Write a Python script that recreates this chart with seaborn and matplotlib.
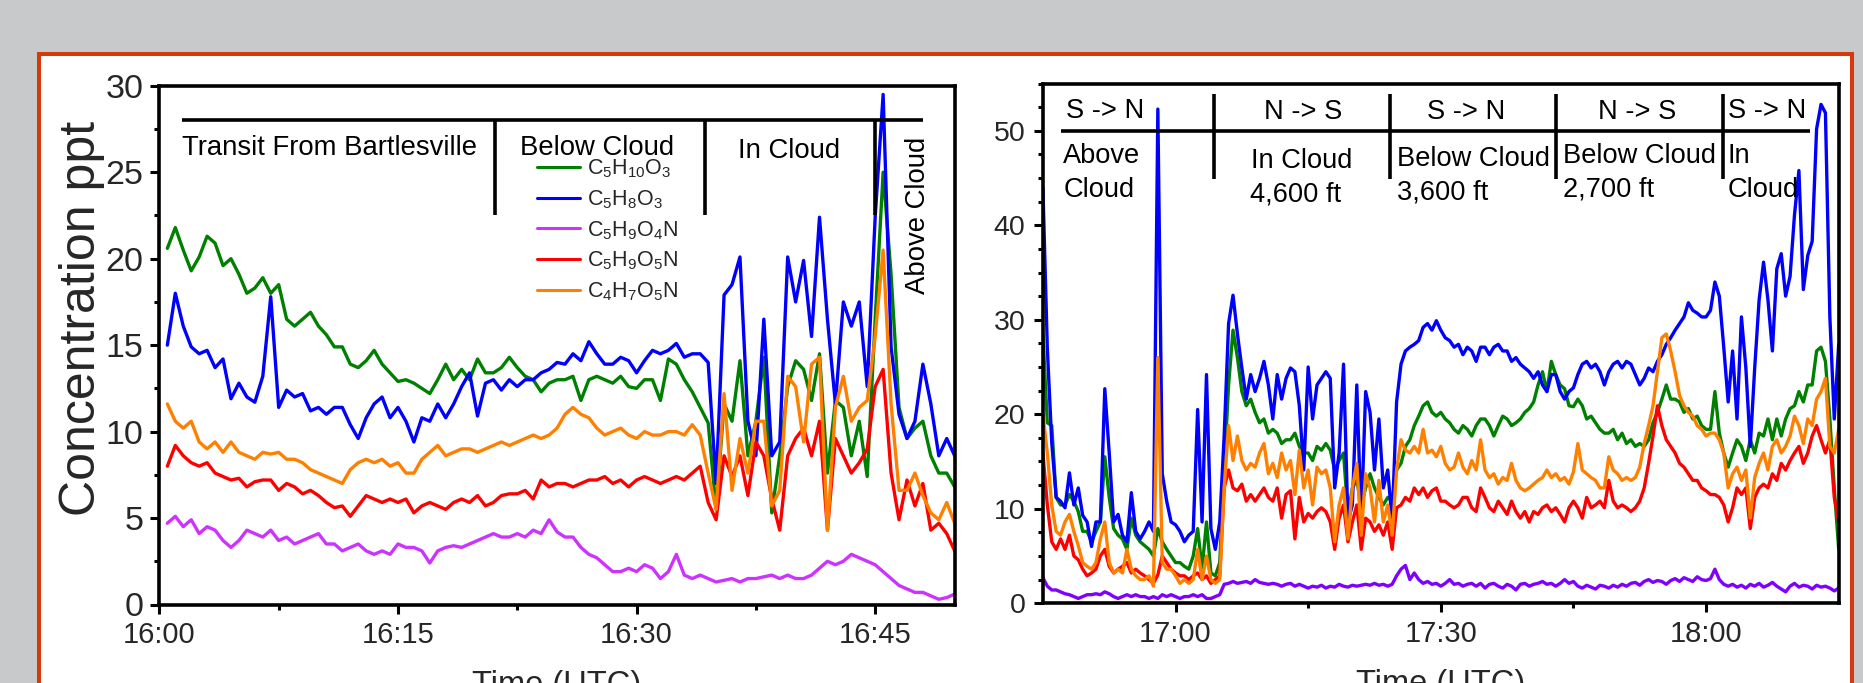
import numpy as np
import pandas as pd
import matplotlib
matplotlib.use("Agg")
import matplotlib.pyplot as plt
import seaborn as sns
from matplotlib.patches import Rectangle
from matplotlib.lines import Line2D
from matplotlib.ticker import FixedLocator, FixedFormatter, MultipleLocator

# ---------------- data ----------------
species = ["C5H10O3", "C5H8O3", "C5H9O4N", "C5H9O5N", "C4H7O5N"]
species_labels = [r"$\mathregular{C_5H_{10}O_3}$", r"$\mathregular{C_5H_8O_3}$",
                  r"$\mathregular{C_5H_9O_4N}$", r"$\mathregular{C_5H_9O_5N}$",
                  r"$\mathregular{C_4H_7O_5N}$"]

# left panel: minutes after 16:00, sampled every 0.5 min from 16:00:30
left_start, left_step = 0.5, 0.5
left_C5H10O3 = [
    20.6, 21.8, 20.5, 19.3, 20.1, 21.3, 20.9, 19.6, 20.0, 19.1,
    18.0, 18.3, 18.9, 18.0, 18.5, 16.5, 16.1, 16.5, 16.9, 16.1,
    15.6, 14.9, 14.9, 13.9, 13.7, 14.1, 14.7, 13.9, 13.4, 12.9,
    13.0, 12.8, 12.5, 12.2, 13.0, 13.9, 13.0, 13.6, 13.0, 14.2,
    13.4, 13.4, 13.7, 14.3, 13.7, 13.2, 13.0, 12.3, 12.8, 13.0,
    13.0, 13.2, 11.8, 13.0, 13.2, 13.0, 12.8, 13.2, 12.6, 12.5,
    13.0, 13.0, 11.8, 14.2, 13.9, 13.0, 12.3, 11.4, 10.5, 5.5,
    11.6, 10.6, 14.1, 8.6, 10.6, 14.3, 5.3, 8.6, 12.6, 14.1,
    13.6, 11.8, 14.5, 7.6, 11.8, 11.4, 8.6, 10.6, 7.4, 16.5,
    25.0, 19.1, 11.4, 9.6, 10.2, 10.6, 8.6, 7.6, 7.6, 6.8]
left_C5H8O3 = [
    15.0, 18.0, 16.1, 14.9, 14.5, 14.7, 13.7, 14.2, 11.9, 12.8,
    12.0, 11.7, 13.2, 17.8, 11.4, 12.4, 12.0, 12.2, 11.2, 11.4,
    11.0, 11.4, 11.4, 10.4, 9.6, 10.8, 11.6, 12.0, 10.8, 11.4,
    10.6, 9.4, 10.8, 10.6, 11.6, 10.8, 11.6, 12.6, 13.4, 10.9,
    12.8, 13.0, 12.4, 13.0, 12.6, 13.0, 13.0, 13.4, 13.6, 14.0,
    13.9, 14.5, 14.1, 15.2, 14.5, 13.9, 13.9, 14.3, 14.1, 13.4,
    14.1, 14.7, 14.5, 14.7, 15.1, 14.3, 14.5, 14.5, 14.0, 7.0,
    17.9, 18.5, 20.1, 10.6, 8.6, 16.5, 8.6, 9.4, 20.1, 17.5,
    19.9, 15.5, 22.4, 16.5, 11.6, 17.5, 16.1, 17.5, 12.6, 22.4,
    29.5, 14.9, 11.0, 9.6, 10.6, 13.9, 11.6, 8.6, 9.6, 8.6]
left_C5H9O4N = [
    4.7, 5.1, 4.5, 4.9, 4.1, 4.5, 4.3, 3.7, 3.3, 3.7,
    4.3, 4.1, 3.9, 4.3, 3.7, 3.9, 3.5, 3.7, 3.9, 4.1,
    3.5, 3.5, 3.1, 3.3, 3.5, 3.1, 2.9, 3.1, 2.9, 3.5,
    3.3, 3.3, 3.1, 2.4, 3.1, 3.3, 3.4, 3.3, 3.5, 3.7,
    3.9, 4.1, 3.9, 3.9, 4.1, 3.9, 4.3, 4.1, 4.9, 4.2,
    3.9, 3.9, 3.3, 2.9, 2.7, 2.3, 1.9, 1.9, 2.1, 1.9,
    2.3, 2.1, 1.5, 1.9, 2.9, 1.7, 1.5, 1.7, 1.5, 1.3,
    1.4, 1.5, 1.3, 1.5, 1.5, 1.6, 1.7, 1.5, 1.7, 1.5,
    1.5, 1.7, 2.1, 2.5, 2.3, 2.5, 2.9, 2.7, 2.5, 2.3,
    1.9, 1.5, 1.1, 0.9, 0.7, 0.7, 0.5, 0.3, 0.4, 0.6]
left_C5H9O5N = [
    8.0, 9.2, 8.6, 8.2, 8.0, 8.2, 7.6, 7.4, 7.2, 7.3,
    6.8, 7.1, 7.2, 7.2, 6.6, 7.0, 6.8, 6.4, 6.6, 6.3,
    5.9, 5.6, 5.7, 5.1, 5.7, 6.3, 6.1, 5.9, 6.1, 5.9,
    6.1, 5.3, 5.7, 5.9, 5.7, 5.5, 5.9, 6.1, 5.9, 6.3,
    5.7, 5.9, 6.3, 6.4, 6.4, 6.6, 6.1, 7.2, 6.8, 7.0,
    7.0, 6.8, 7.0, 7.2, 7.2, 7.4, 7.0, 7.2, 6.8, 7.2,
    7.4, 7.2, 7.0, 7.2, 7.4, 7.2, 7.6, 8.0, 5.9, 4.9,
    8.6, 7.4, 8.6, 6.3, 9.4, 8.6, 6.1, 4.3, 8.6, 9.6,
    10.2, 8.6, 10.6, 4.3, 9.6, 8.6, 7.6, 8.2, 9.0, 12.6,
    13.6, 7.6, 4.9, 7.2, 5.7, 7.0, 4.3, 4.7, 4.1, 3.1]
left_C4H7O5N = [
    11.6, 10.6, 10.2, 10.6, 9.4, 9.0, 9.4, 8.8, 9.4, 8.8,
    8.6, 8.4, 8.8, 8.7, 8.8, 8.4, 8.4, 8.2, 7.8, 7.6,
    7.4, 7.2, 7.0, 7.8, 8.2, 8.4, 8.2, 8.4, 8.0, 8.2,
    7.6, 7.6, 8.4, 8.8, 9.2, 8.6, 8.8, 9.0, 9.0, 8.8,
    9.0, 9.2, 9.4, 9.2, 9.4, 9.6, 9.8, 9.6, 9.8, 10.2,
    11.0, 11.4, 11.0, 10.8, 10.2, 9.8, 10.0, 10.2, 9.8, 9.6,
    10.0, 9.8, 9.8, 10.0, 10.0, 9.8, 10.4, 9.8, 7.6, 5.5,
    12.2, 6.6, 9.6, 7.6, 10.6, 10.6, 5.7, 6.6, 13.2, 12.6,
    9.4, 13.9, 14.3, 4.3, 11.4, 13.2, 10.6, 11.4, 11.8, 15.5,
    20.5, 11.6, 6.6, 6.6, 7.6, 6.3, 5.3, 4.9, 5.9, 4.7]

# right panel: minutes after 16:45, sampled every 0.5 min
right_start, right_step = 0.0, 0.5
right_C5H10O3 = [
    28.5, 19.1, 18.8, 11.2, 10.4, 10.4, 11.5, 10.8, 9.7, 7.6,
    7.6, 6.5, 7.6, 8.6, 15.5, 11.2, 7.9, 7.2, 6.8, 5.7,
    9.0, 7.2, 6.5, 6.1, 5.7, 5.0, 7.9, 6.5, 5.7, 5.0,
    4.3, 4.3, 3.9, 3.6, 5.0, 7.9, 3.6, 8.6, 3.2, 2.9,
    4.3, 14.1, 23.1, 28.9, 26.0, 22.4, 20.9, 21.6, 20.2, 19.1,
    19.5, 18.0, 18.4, 18.0, 16.9, 17.3, 17.3, 18.0, 16.6, 15.9,
    15.9, 15.1, 16.6, 16.2, 16.9, 16.2, 14.1, 15.1, 15.9, 9.4,
    12.2, 13.0, 10.4, 12.2, 13.7, 12.2, 11.2, 10.4, 11.2, 10.8,
    14.1, 14.8, 16.6, 17.3, 18.8, 19.8, 20.9, 21.3, 20.2, 19.8,
    20.2, 19.5, 19.1, 18.4, 18.0, 18.8, 18.4, 17.7, 18.8, 19.5,
    19.5, 18.8, 17.7, 18.8, 19.8, 19.5, 18.8, 19.1, 19.5, 20.2,
    20.6, 21.3, 23.1, 24.5, 22.4, 25.6, 24.2, 23.1, 22.7, 20.9,
    20.8, 21.6, 20.9, 19.5, 19.8, 19.1, 18.4, 18.0, 18.0, 18.4,
    17.3, 18.0, 16.9, 17.3, 16.6, 16.9, 16.6, 17.3, 19.1, 20.2,
    21.6, 23.1, 21.6, 21.6, 21.3, 20.2, 20.6, 19.5, 19.8, 18.8,
    18.4, 18.4, 22.4, 18.0, 15.9, 14.4, 15.9, 17.3, 16.6, 15.1,
    17.3, 15.9, 18.0, 17.7, 19.5, 17.3, 19.5, 17.7, 19.5, 20.6,
    20.9, 22.4, 21.3, 23.1, 23.1, 26.7, 27.1, 25.6, 19.5, 12.2,
    5.7]
right_C5H8O3 = [
    44.0, 27.0, 17.0, 11.2, 10.8, 10.1, 13.8, 10.4, 12.2, 9.3,
    8.6, 6.0, 8.6, 8.6, 22.7, 15.9, 8.6, 9.4, 7.2, 6.5,
    11.7, 7.6, 6.8, 7.6, 8.6, 7.6, 52.3, 13.7, 10.8, 8.6,
    8.3, 7.6, 6.5, 7.2, 7.6, 20.5, 8.6, 24.2, 7.9, 5.7,
    8.6, 17.7, 29.6, 32.6, 28.5, 24.9, 21.6, 24.2, 22.4, 23.8,
    25.6, 23.1, 19.5, 24.2, 21.6, 23.8, 24.9, 24.5, 20.9, 14.1,
    25.0, 19.5, 23.1, 23.8, 24.5, 23.8, 12.2, 15.9, 25.3, 8.6,
    10.4, 23.1, 8.6, 22.4, 20.2, 14.1, 19.5, 12.2, 14.1, 8.6,
    21.3, 25.3, 26.7, 27.1, 27.4, 27.8, 29.2, 29.6, 28.9, 29.9,
    28.9, 28.1, 27.8, 27.1, 27.4, 26.3, 27.1, 26.7, 25.6, 27.1,
    27.1, 26.3, 27.1, 27.4, 26.7, 26.7, 25.6, 26.0, 25.3, 24.9,
    24.5, 23.8, 24.5, 23.1, 22.4, 24.2, 24.2, 22.4, 21.6, 22.4,
    22.8, 24.2, 25.3, 25.6, 24.9, 25.3, 24.5, 23.1, 24.5, 25.3,
    25.6, 24.9, 25.6, 25.3, 24.2, 23.1, 23.8, 24.9, 24.5, 25.6,
    26.3, 27.4, 28.1, 28.9, 29.6, 30.3, 31.8, 31.0, 30.7, 30.3,
    30.3, 31.0, 34.0, 32.5, 27.1, 21.3, 26.7, 19.5, 30.3, 24.9,
    16.6, 24.9, 32.1, 36.1, 32.1, 26.7, 35.4, 37.0, 32.5, 34.6,
    41.1, 45.8, 33.2, 36.8, 38.3, 50.2, 52.8, 51.9, 30.3, 19.5,
    27.4]
right_C5H9O4N = [
    2.7, 1.8, 1.4, 1.4, 1.2, 1.0, 0.9, 0.7, 0.5, 0.7,
    0.9, 0.9, 1.0, 0.9, 1.2, 1.0, 0.7, 0.5, 0.7, 0.9,
    0.7, 0.9, 0.7, 0.7, 0.5, 0.7, 0.5, 0.9, 0.7, 0.9,
    0.7, 0.5, 0.7, 0.7, 0.9, 0.7, 0.9, 0.5, 0.5, 0.7,
    0.9, 2.0, 2.1, 2.3, 2.1, 2.2, 2.3, 2.1, 2.5, 2.2,
    2.1, 2.0, 2.1, 2.0, 1.8, 2.0, 2.1, 1.8, 2.0, 1.8,
    1.6, 1.8, 1.7, 1.9, 1.6, 1.8, 1.7, 2.0, 1.8, 1.7,
    1.9, 1.8, 1.9, 2.0, 1.9, 2.1, 1.9, 2.0, 1.8, 2.0,
    2.9, 3.6, 4.0, 2.5, 3.2, 2.5, 2.1, 2.3, 2.0, 2.1,
    1.8, 2.1, 2.5, 2.0, 2.1, 1.8, 2.0, 2.1, 1.8, 2.1,
    1.6, 2.0, 2.1, 1.8, 1.6, 2.0, 1.8, 1.4, 2.0, 2.1,
    1.8, 2.0, 2.1, 2.3, 2.0, 2.1, 1.8, 2.1, 2.5, 2.1,
    2.3, 1.8, 1.6, 1.9, 1.7, 1.5, 1.9, 1.8, 1.6, 1.9,
    1.7, 2.0, 1.8, 2.1, 2.2, 1.9, 2.3, 2.5, 2.2, 2.4,
    2.3, 2.0, 2.4, 2.6, 2.3, 2.7, 2.5, 2.3, 2.8, 2.5,
    2.4, 2.6, 3.6, 2.5, 2.0, 1.8, 2.0, 1.7, 1.9, 1.6,
    2.0, 1.8, 2.1, 1.7, 1.9, 2.2, 1.8, 1.5, 1.2, 1.8,
    2.1, 1.7, 1.9, 1.8, 1.5, 1.9, 1.7, 1.8, 1.6, 1.3,
    1.6]
right_C5H9O5N = [
    15.9, 10.4, 6.5, 5.7, 6.8, 5.7, 7.2, 5.0, 4.6, 3.6,
    2.9, 3.2, 3.6, 5.0, 5.7, 3.9, 3.2, 3.6, 3.9, 4.3,
    3.2, 3.6, 3.2, 2.9, 2.5, 2.1, 3.0, 5.0, 4.3, 3.6,
    3.2, 2.9, 2.9, 2.5, 2.9, 3.2, 2.5, 2.9, 2.1, 2.5,
    2.9, 12.2, 14.1, 12.2, 11.9, 12.6, 10.8, 11.5, 10.8, 11.5,
    12.2, 11.2, 10.8, 12.2, 9.0, 11.5, 11.9, 6.8, 11.2, 8.6,
    9.5, 9.0, 9.7, 10.1, 9.7, 8.6, 5.7, 9.0, 10.4, 6.5,
    8.6, 10.4, 5.7, 9.0, 8.6, 7.6, 8.3, 7.2, 8.6, 5.7,
    10.1, 10.4, 11.2, 10.8, 12.2, 11.5, 12.2, 11.2, 11.9, 12.2,
    10.8, 10.8, 10.4, 10.1, 10.4, 11.2, 11.2, 10.1, 9.7, 12.2,
    11.2, 10.1, 9.7, 10.8, 10.1, 9.4, 10.8, 9.7, 9.0, 9.7,
    8.6, 9.7, 9.4, 10.1, 10.4, 9.7, 10.1, 9.4, 8.6, 10.1,
    10.8, 10.1, 9.0, 11.2, 10.1, 10.4, 10.8, 10.1, 13.0, 10.8,
    10.1, 10.4, 10.1, 9.7, 10.1, 10.8, 12.2, 14.8, 17.7, 20.9,
    18.8, 17.3, 16.6, 15.9, 14.8, 14.4, 13.7, 13.0, 13.0, 12.2,
    11.9, 11.5, 11.5, 11.2, 10.4, 8.6, 10.1, 12.2, 11.5, 12.2,
    7.9, 11.2, 12.2, 12.6, 12.2, 13.7, 13.0, 14.8, 14.1, 15.1,
    15.9, 16.6, 14.8, 15.9, 17.7, 18.8, 17.3, 15.9, 17.3, 11.2,
    8.6]
right_C4H7O5N = [
    20.0, 15.9, 10.4, 7.6, 7.2, 8.6, 9.4, 7.6, 6.1, 4.3,
    3.9, 3.6, 4.3, 6.8, 8.6, 4.3, 3.2, 3.6, 3.2, 5.7,
    3.6, 2.9, 2.5, 2.5, 2.9, 1.8, 26.0, 4.3, 3.6, 3.6,
    2.9, 2.1, 2.5, 2.1, 2.5, 5.7, 2.5, 5.0, 2.5, 2.1,
    2.5, 12.2, 18.8, 15.1, 17.7, 15.1, 14.1, 14.8, 14.4, 15.9,
    16.9, 13.7, 14.8, 13.3, 15.9, 14.1, 15.1, 11.5, 16.2, 12.2,
    14.1, 10.4, 14.4, 13.7, 14.1, 12.2, 6.5, 10.4, 12.2, 6.8,
    12.2, 14.8, 7.2, 13.7, 12.2, 8.6, 13.0, 8.6, 10.4, 7.2,
    14.1, 17.3, 16.2, 15.9, 16.6, 15.9, 18.4, 15.9, 16.2, 15.5,
    16.6, 14.8, 14.1, 14.4, 15.9, 14.4, 13.7, 15.1, 14.1, 17.3,
    14.1, 13.3, 13.7, 12.6, 13.3, 13.0, 14.8, 13.0, 12.2, 11.9,
    12.2, 12.6, 13.0, 13.3, 14.1, 13.3, 13.7, 13.0, 13.3, 12.6,
    13.9, 16.9, 14.1, 13.7, 13.3, 13.0, 12.2, 12.2, 15.5, 14.1,
    13.7, 13.0, 13.3, 13.0, 13.3, 14.4, 16.9, 18.8, 20.9, 24.5,
    28.1, 28.5, 26.7, 24.5, 22.0, 20.9, 20.2, 19.8, 18.8, 18.4,
    17.7, 18.0, 18.0, 17.3, 15.9, 12.2, 13.7, 14.4, 13.0, 14.1,
    9.0, 13.3, 14.8, 15.9, 14.1, 16.6, 17.3, 15.9, 16.6, 17.7,
    19.8, 18.8, 16.9, 19.5, 18.8, 21.6, 22.4, 23.8, 16.6, 15.9,
    18.4]

left_tick_labels = ["16:00", "16:15", "16:30", "16:45"]
right_tick_labels = ["17:00", "17:30", "18:00"]

left_segments = ["Transit From Bartlesville", "Below Cloud", "In Cloud", "Above Cloud"]
right_directions = ["S -> N", "N -> S", "S -> N", "N -> S", "S -> N"]
right_segments = ["Above\nCloud", "In Cloud\n4,600 ft", "Below Cloud\n3,600 ft",
                  "Below Cloud\n2,700 ft", "In\nCloud"]

left_colors = ["#008000", "#0000ff", "#cc33ff", "#ff0000", "#ff8000"]
right_colors = ["#008000", "#0000ff", "#8000ff", "#ff0000", "#ff8000"]

# ---------------- frames ----------------
left_series = [left_C5H10O3, left_C5H8O3, left_C5H9O4N, left_C5H9O5N, left_C4H7O5N]
right_series = [right_C5H10O3, right_C5H8O3, right_C5H9O4N, right_C5H9O5N, right_C4H7O5N]
left_t = left_start + left_step * np.arange(len(left_C5H10O3))
right_t = right_start + right_step * np.arange(len(right_C5H10O3))
for s in left_series:
    assert len(s) == len(left_t)
for s in right_series:
    assert len(s) == len(right_t)

def long_frame(t, series):
    frames = []
    for name, vals in zip(species, series):
        frames.append(pd.DataFrame({"t": t, "ppt": vals, "species": name}))
    return pd.concat(frames, ignore_index=True)

left_df = long_frame(left_t, left_series)
right_df = long_frame(right_t, right_series)

# ---------------- style ----------------
sns.set_theme(style="white")
FONT = "Liberation Sans"
plt.rcParams["font.family"] = [FONT, "DejaVu Sans"]
plt.rcParams["mathtext.fontset"] = "custom"
plt.rcParams["mathtext.rm"] = FONT
plt.rcParams["mathtext.default"] = "regular"

W, H = 1863, 683
fig = plt.figure(figsize=(W / 100, H / 100), dpi=100, facecolor="#c8c9cb")
fig.patches.append(Rectangle((39 / W, -0.1), (1852 - 39) / W, 1.1 - 54 / H,
                             transform=fig.transFigure, facecolor="white",
                             edgecolor="#d63a0a", linewidth=2.9, zorder=-5))

axL = fig.add_axes([159.4 / W, 1 - 604.5 / H, 795.3 / W, 518.7 / H])
axR = fig.add_axes([1042.9 / W, 1 - 603.2 / H, 795.8 / W, 519.6 / H])

LW = 2.4
sns.lineplot(data=left_df, x="t", y="ppt", hue="species", hue_order=species,
             palette=left_colors, ax=axL, linewidth=LW, legend=False,
             estimator=None, sort=False)
sns.lineplot(data=right_df, x="t", y="ppt", hue="species", hue_order=species,
             palette=right_colors, ax=axR, linewidth=LW, legend=False,
             estimator=None, sort=False)

for ax in (axL, axR):
    ax.set_facecolor("white")
    for sp in ax.spines.values():
        sp.set_color("black")
        sp.set_linewidth(2.6)
    ax.tick_params(which="both", bottom=True, left=True, top=False, right=False,
                   direction="out", color="black", width=2.2)
    ax.tick_params(which="major", length=6.5)
    ax.tick_params(which="minor", length=3.8)
    ax.tick_params(axis="x", which="major", labelsize=21, pad=5.5)
    ax.set_xlabel("Time (UTC)", fontsize=23.5)
    ax.xaxis.set_label_coords(0.5, -0.126)

axL.set_xlim(0, 50)
axL.set_ylim(0, 30)
axL.xaxis.set_major_locator(FixedLocator([0, 15, 30, 45]))
axL.xaxis.set_major_formatter(FixedFormatter(left_tick_labels))
axL.xaxis.set_minor_locator(FixedLocator([7.5, 22.5, 37.5]))
axL.yaxis.set_major_locator(MultipleLocator(5))
axL.yaxis.set_minor_locator(MultipleLocator(2.5))
axL.tick_params(axis="y", which="major", labelsize=24.5, pad=5)
axL.set_ylabel("Concentration ppt", fontsize=36)
axL.yaxis.set_label_coords(-0.069, 0.552)

axR.set_xlim(0, 90)
axR.set_ylim(0, 55)
axR.xaxis.set_major_locator(FixedLocator([15, 45, 75]))
axR.xaxis.set_major_formatter(FixedFormatter(right_tick_labels))
axR.xaxis.set_minor_locator(FixedLocator([30, 60]))
axR.yaxis.set_major_locator(MultipleLocator(10))
axR.yaxis.set_minor_locator(MultipleLocator(2.5))
axR.tick_params(axis="y", which="major", labelsize=20.5, pad=6)
axR.set_ylabel("")

# ---------------- left annotations ----------------
lk = dict(color="black", lw=2.6, solid_capstyle="butt", zorder=5)
axL.plot([1.4, 48.0], [28, 28], **lk)
for xv in (21.1, 34.3, 45.0):
    axL.plot([xv, xv], [28, 22.5], **lk)
tk = dict(fontsize=19.8, color="black", zorder=6)
axL.text(1.4, 26.0, left_segments[0], ha="left", va="baseline", **tk)
axL.text(27.5, 26.0, left_segments[1], ha="center", va="baseline", **tk)
axL.text(39.6, 25.85, left_segments[2], ha="center", va="baseline", **tk)
axL.text(47.7, 22.5, left_segments[3], ha="center", va="center", rotation=90, **tk)

handles = [Line2D([], [], color=c, lw=2.2) for c in left_colors]
leg = axL.legend(handles, species_labels, loc="upper left",
                 bbox_to_anchor=(0.4752, 0.862), frameon=False, fontsize=15.5,
                 handlelength=2.0, handletextpad=0.3, labelspacing=0.38,
                 borderpad=0, borderaxespad=0)

# ---------------- right annotations ----------------
axR.plot([2.0, 86.8], [50, 50], **lk)
for xv in (19.4, 39.3, 58.0, 76.9):
    axR.plot([xv, xv], [53.9, 44.9], **lk)
tr = dict(fontsize=19.6, color="black", zorder=6, va="baseline")
axR.text(7.0, 51.4, right_directions[0], ha="center", **tr)
axR.text(29.4, 51.3, right_directions[1], ha="center", **tr)
axR.text(47.9, 51.2, right_directions[2], ha="center", **tr)
axR.text(67.2, 51.3, right_directions[3], ha="center", **tr)
axR.text(77.5, 51.4, right_directions[4], ha="left", **tr)

line_gap = 3.6
seg_pos = [(2.3, 46.6, "left"), (29.3, 46.1, "center"), (40.0, 46.3, "left"),
           (58.8, 46.6, "left"), (77.4, 46.6, "left")]
for (xv, yv, ha), txt in zip(seg_pos, right_segments):
    l1, l2 = txt.split("\n")
    axR.text(xv, yv, l1, ha=ha, **tr)
    axR.text(xv - (0.7 if ha == "center" else 0), yv - line_gap, l2, ha=ha, **tr)

fig.savefig("out.png", dpi=100, facecolor=fig.get_facecolor())
